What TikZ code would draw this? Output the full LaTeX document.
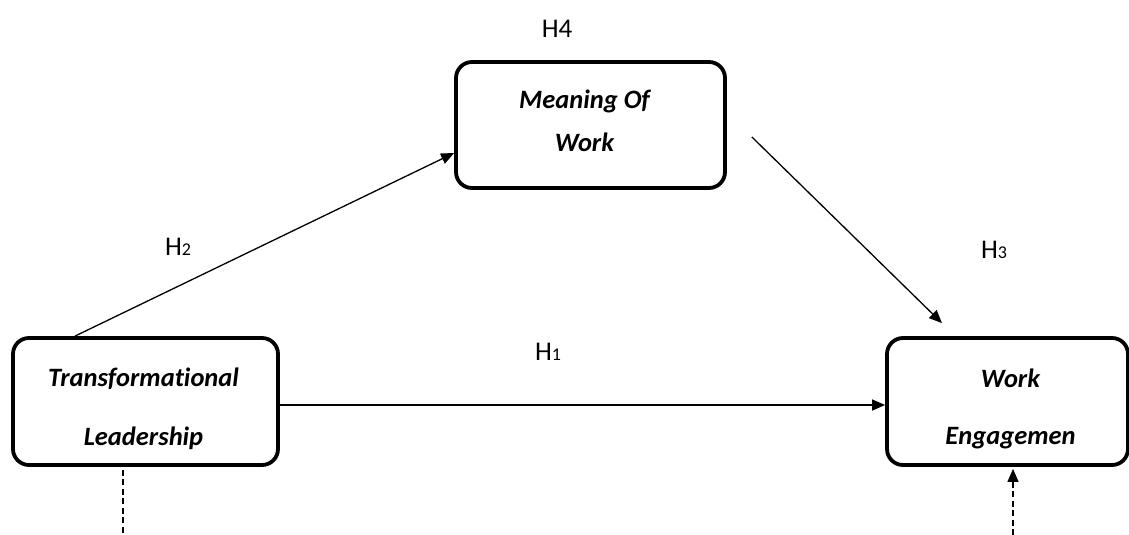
\documentclass[tikz,border=0pt]{standalone}
\usepackage{fontspec}
\setmainfont{Carlito}[RawFeature={-liga,-dlig,-clig}]
\usetikzlibrary{arrows.meta,calc}
\begin{document}
\begin{tikzpicture}[x=1pt,y=1pt,
  box/.style={draw,line width=3.8pt,rounded corners=16pt,inner sep=0pt},
  boxtext/.style={inner sep=0pt,align=center,font=\fontsize{26.5}{27}\selectfont\bfseries\itshape},
  arr/.style={line width=1.3pt,-{Triangle[length=13pt,width=11pt]}},
  dashline/.style={line width=1.3pt,dash pattern=on 6pt off 3.5pt},
  hlab/.style={font=\fontsize{27}{27}\selectfont,inner sep=0pt}]
\useasboundingbox (0,0) rectangle (1129,-535);
\node[box,minimum width=269pt,minimum height=126pt] (mw) at (590.5,-125) {};
\node[box,minimum width=265pt,minimum height=127pt] (tl) at (145.5,-401.5) {};
\node[box,minimum width=241pt,minimum height=127pt] (we) at (1007.5,-401.5) {};
\node[boxtext] (mwt) at ([xshift=-6pt,yshift=4pt]mw.center) {Meaning Of\\[16pt]Work};
\node[boxtext] (tlt) at ([xshift=-2pt,yshift=-7pt]tl.center) {Transformational\\[32pt]Leadership};
\node[boxtext] (wet) at ([xshift=3pt,yshift=-7.5pt]we.center) {Work\\[30pt]Engagemen};
\draw[arr] ([xshift=-70.5pt]tl.north) -- ([yshift=-28pt]mw.west);
\draw[arr] ([xshift=25pt,yshift=-12pt]mw.east) -- ([xshift=-65.5pt,yshift=13pt]we.north);
\draw[arr] ([yshift=-3.5pt]tl.east) -- ([yshift=-3.5pt]we.west);
\coordinate (b1) at (123,-535);
\coordinate (b2) at (1013,-535);
\draw[dashline] ([xshift=-22.5pt,yshift=-3pt]tl.south) -- (b1);
\draw[dashline,-{Triangle[length=13pt,width=11pt]}] (b2) -- ([xshift=5.5pt,yshift=-2pt]we.south);
\node[hlab] (h4) at (557,-29) {H4};
\node[hlab] (h2) at (178,-247) {H{\fontsize{18}{18}\selectfont 2}};
\node[hlab] (h3) at (994,-250) {H{\fontsize{18}{18}\selectfont 3}};
\node[hlab] (h1) at (548,-352) {H{\fontsize{18}{18}\selectfont 1}};
\end{tikzpicture}
\end{document}
